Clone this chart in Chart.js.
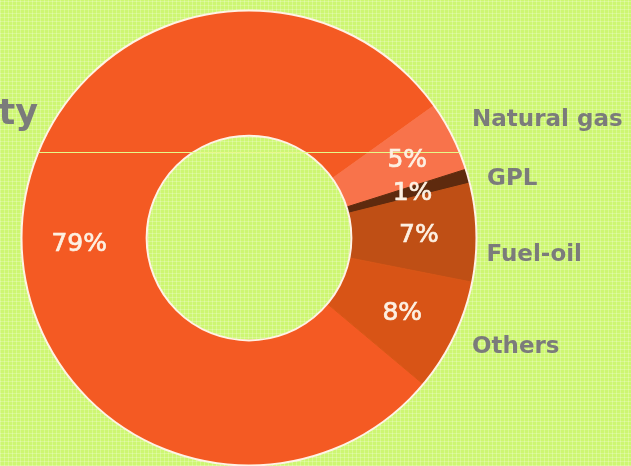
<!DOCTYPE html>
<html>
<head>
<meta charset="utf-8">
<script src="https://cdn.jsdelivr.net/npm/chart.js@4.4.1/dist/chart.umd.min.js"></script>
<style>
    html, body {
        margin: 0;
        padding: 0;
        width: 631px;
        height: 466px;
        overflow: hidden;
    }
    body {
        background-color: #cdf672;
        background-image:
            repeating-linear-gradient(0deg, rgba(255, 255, 255, 0.22) 0 1px, transparent 1px 4px),
            repeating-linear-gradient(90deg, rgba(255, 255, 255, 0.22) 0 1px, transparent 1px 4px);
    }
    #wrap {
        position: relative;
        width: 631px;
        height: 466px;
    }
</style>
</head>
<body>
<div id="wrap"><canvas id="chart"></canvas></div>
<script>
    const title = "Electricity";
    const labels = ["Electricity", "Natural gas", "GPL", "Fuel-oil", "Others"];
    const values = [79, 5, 1, 7, 8];
    const colors = ["#f45a23", "#f8734b", "#5e2a0e", "#bf4f15", "#d85416"];

    // texte dans les parts + noms a droite + cercles blancs
    const decor = {
        id: "decor",
        afterDatasetsDraw(chart) {
            const ctx = chart.ctx;
            const arcs = chart.getDatasetMeta(0).data;
            const first = arcs[0];
            const cx = first.x, cy = first.y;
            const R = first.outerRadius, r = first.innerRadius;

            ctx.save();
            ctx.strokeStyle = "#fff3e6";
            ctx.lineWidth = 2;
            ctx.beginPath();
            ctx.arc(cx, cy, R, 0, Math.PI * 2);
            ctx.stroke();
            ctx.beginPath();
            ctx.arc(cx, cy, r, 0, Math.PI * 2);
            ctx.stroke();

            // ligne jaune
            const dy = 152 - cy;
            const half = Math.sqrt(R * R - dy * dy);
            ctx.strokeStyle = "#e6f98a";
            ctx.lineWidth = 1;
            ctx.beginPath();
            ctx.moveTo(cx - half, cy + dy + 0.5);
            ctx.lineTo(cx + half, cy + dy + 0.5);
            ctx.stroke();

            // pourcentages
            ctx.fillStyle = "#fdf0e2";
            ctx.strokeStyle = "#fdf0e2";
            ctx.lineWidth = 0.7;
            ctx.font = "25px 'DejaVu Sans'";
            ctx.textAlign = "center";
            ctx.textBaseline = "middle";
            arcs.forEach((arc, i) => {
                const a = (arc.startAngle + arc.endAngle) / 2;
                const rm = (R + r) / 2 + (i === 1 ? 12 : 5);
                const x = cx + rm * Math.cos(a);
                const y = cy + rm * Math.sin(a) + (i === 0 ? 13 : 2);
                ctx.fillText(values[i] + "%", x, y);
                ctx.strokeText(values[i] + "%", x, y);
            });

            // noms a droite
            ctx.fillStyle = "#7b7b7b";
            ctx.font = "bold 23px 'DejaVu Sans'";
            ctx.textAlign = "left";
            const nudge = [[0, 0], [0, -6], [-2, 9], [-12, 23], [-2, 1]];
            arcs.forEach((arc, i) => {
                if (i === 0) return;
                const a = (arc.startAngle + arc.endAngle) / 2;
                const x = cx + (R + 22) * Math.cos(a);
                const y = cy + (R + 22) * Math.sin(a);
                ctx.fillText(labels[i], Math.max(x, cx + R - 8) + nudge[i][0], y + nudge[i][1]);
            });

            // titre coupe a gauche
            ctx.font = "bold 35px 'DejaVu Sans'";
            ctx.textAlign = "right";
            ctx.textBaseline = "alphabetic";
            ctx.fillText(title, 38, 124);
            ctx.restore();
        }
    };

    new Chart(document.getElementById("chart"), {
        type: "doughnut",
        data: {
            labels: labels,
            datasets: [{
                data: values,
                backgroundColor: colors,
                borderColor: colors,
                borderWidth: 1,
            }]
        },
        options: {
            responsive: true,
            maintainAspectRatio: false,
            animation: false,
            rotation: 130,
            cutout: "45%",
            layout: {
                padding: { left: 21, right: 154, top: 10, bottom: 0 }
            },
            plugins: {
                legend: { display: false },
                tooltip: { enabled: false },
            },
        },
        plugins: [decor],
    });
</script>
</body>
</html>
